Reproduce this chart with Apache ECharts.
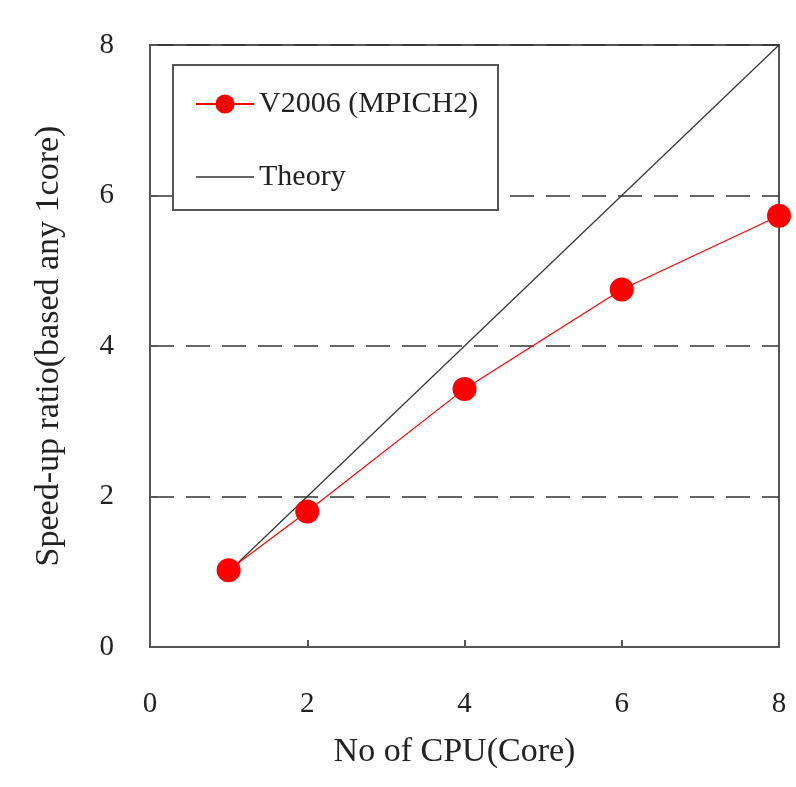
<!DOCTYPE html>
<html>
<head>
<meta charset="utf-8">
<script src="https://cdn.jsdelivr.net/npm/echarts@6/dist/echarts.min.js"></script>
<style>html,body{margin:0;padding:0;background:#fff}#c{width:796px;height:787px}</style>
</head>
<body>
<div id="c"></div>
<script>
const cores = [1, 2, 4, 6, 8];
const speedup = [1.02, 1.8, 3.43, 4.75, 5.73];
const theoryX = [1, 8];
const theoryY = [1, 8];
const seriesNames = ['V2006 (MPICH2)', 'Theory'];
const xTitle = 'No of CPU(Core)';
const yTitle = 'Speed-up ratio(based any 1core)';

const font = 'Liberation Serif';
const chart = echarts.init(document.getElementById('c'));
chart.setOption({
  backgroundColor: '#fff',
  animation: false,
  grid: { left: 150, right: 17, top: 45, bottom: 140, show: true, borderColor: '#555', borderWidth: 2, backgroundColor: 'transparent' },
  xAxis: {
    type: 'value', min: 0, max: 8, interval: 2,
    name: xTitle, nameLocation: 'middle', nameGap: 88,
    nameTextStyle: { fontFamily: font, fontSize: 34, color: '#222', padding: [0, 20, 0, 0] },
    axisLine: { show: true, lineStyle: { color: '#555', width: 2 } },
    axisTick: { show: true, inside: true, length: 7, lineStyle: { color: '#555', width: 2 } },
    axisLabel: { fontFamily: font, fontSize: 29, color: '#222', margin: 43 },
    splitLine: { show: false }
  },
  yAxis: {
    type: 'value', min: 0, max: 8, interval: 2,
    name: yTitle, nameLocation: 'middle', nameGap: 84, nameRotate: 90,
    nameTextStyle: { fontFamily: font, fontSize: 34, color: '#222' },
    axisLine: { show: true, lineStyle: { color: '#555', width: 2 } },
    axisTick: { show: true, inside: true, length: 7, lineStyle: { color: '#555', width: 2 } },
    axisLabel: { fontFamily: font, fontSize: 29, color: '#222', margin: 36 },
    splitLine: { show: true, lineStyle: { color: '#333', width: 1.5, type: [24, 12] } }
  },
  legend: {
    orient: 'vertical', left: 190, top: 84, itemGap: 43,
    itemWidth: 58, itemHeight: 24,
    textStyle: { fontFamily: font, fontSize: 30, lineHeight: 30, color: '#222' },
    data: [
      { name: seriesNames[0] },
      { name: seriesNames[1], icon: 'path://M0,0 L58,0 L58,1.4 L0,1.4 Z', itemStyle: { color: '#333' } }
    ],
    z: 10
  },
  graphic: [{
    type: 'rect', left: 172, top: 64, z: 5,
    shape: { width: 325, height: 145 },
    style: { fill: '#fff', stroke: '#555', lineWidth: 2 }
  }],
  series: [
    {
      name: seriesNames[0], type: 'line',
      data: cores.map((c, i) => [c, speedup[i]]),
      symbol: 'circle', symbolSize: 24,
      itemStyle: { color: '#ff0000' },
      lineStyle: { color: '#ff0000', width: 1.2 },
      z: 4
    },
    {
      name: seriesNames[1], type: 'line',
      data: theoryX.map((x, i) => [x, theoryY[i]]),
      symbol: 'none',
      itemStyle: { color: '#333' },
      lineStyle: { color: '#333', width: 1.2 },
      z: 3
    }
  ]
});
</script>
</body>
</html>
